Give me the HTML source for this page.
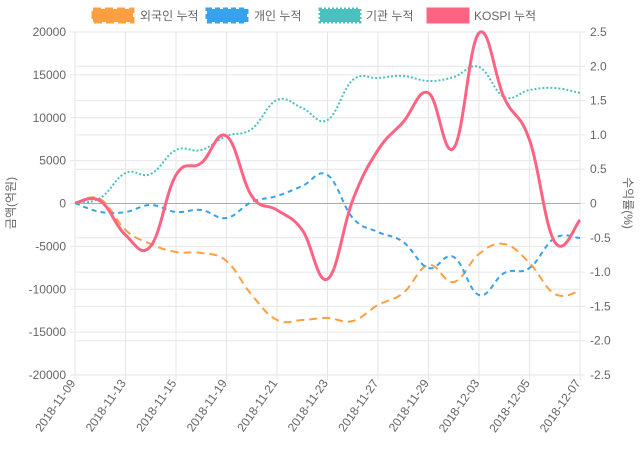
<!DOCTYPE html>
<html><head><meta charset="utf-8"><style>
body{margin:0;background:#fff}
svg text{font-family:"Liberation Sans","Noto Sans CJK KR",sans-serif;fill:#666;font-size:12px}
</style></head><body>
<svg id="s" width="640" height="450" xmlns="http://www.w3.org/2000/svg">
<g id="grid" stroke="#e6e6e6" stroke-width="1"></g>
<line x1="75" y1="203.5" x2="580" y2="203.5" stroke="#aaa"/>
<g id="lbl"></g>
<g id="lines" fill="none"></g>
<g>
<rect x="93" y="9" width="40" height="13" fill="#ff9f40" stroke="#ff9f40" stroke-width="3" stroke-dasharray="8,4"/>
<text x="140" y="20">외국인 누적</text>
<rect x="207" y="9" width="40" height="13" fill="#36a2eb" stroke="#36a2eb" stroke-width="3" stroke-dasharray="5,3"/>
<text x="254" y="20">개인 누적</text>
<rect x="320" y="9" width="40" height="13" fill="#4bc0c0" stroke="#4bc0c0" stroke-width="3" stroke-dasharray="2,2"/>
<text x="366" y="20">기관 누적</text>
<rect x="428" y="9" width="40" height="13" fill="#ff6384" stroke="#ff6384" stroke-width="3"/>
<text x="474" y="20">KOSPI 누적</text>
</g>
<text transform="translate(15,203) rotate(-90)" text-anchor="middle">금액(억원)</text>
<text transform="translate(624,203) rotate(90)" text-anchor="middle">수익률(%)</text>
</svg>
<script>
const NS="http://www.w3.org/2000/svg";
function el(p,t,a,txt){const e=document.createElementNS(NS,t);for(const k in a)e.setAttribute(k,a[k]);if(txt!==undefined)e.textContent=txt;document.getElementById(p).appendChild(e);return e;}
const L=75,R=580,T=32,B=375;
for(let i=0;i<=8;i++){const y=T+i*(B-T)/8;el("grid","line",{x1:L-5,x2:R,y1:y,y2:y});el("lbl","text",{x:66,y:y+4,"text-anchor":"end"},20000-5000*i);}
for(let i=0;i<=10;i++){const y=T+i*(B-T)/10;el("grid","line",{x1:L,x2:R+5,y1:y,y2:y});const v=(2.5-0.5*i);el("lbl","text",{x:590,y:y+4},v===0?"0":v.toFixed(1));}
const dates=["2018-11-09","2018-11-13","2018-11-15","2018-11-19","2018-11-21","2018-11-23","2018-11-27","2018-11-29","2018-12-03","2018-12-05","2018-12-07"];
for(let i=0;i<=10;i++){const x=L+i*50.5;el("grid","line",{x1:x,x2:x,y1:T,y2:B+5});el("lbl","text",{transform:`translate(${x+1},${B+8}) rotate(-55)`,"text-anchor":"end"},dates[i]);}
const st=25.25;
function path(ys){const p=ys.map((y,i)=>[L+i*st,y]);let d=`M${p[0][0]},${p[0][1]}`;
for(let i=0;i<p.length-1;i++){const p0=p[i-1]||p[i],p1=p[i],p2=p[i+1],p3=p[i+2]||p2;
const c1=[p1[0]+(p2[0]-p0[0])*0.2,p1[1]+(p2[1]-p0[1])*0.2],c2=[p2[0]-(p3[0]-p1[0])*0.2,p2[1]-(p3[1]-p1[1])*0.2];
d+=`C${c1[0]},${c1[1]} ${c2[0]},${c2[1]} ${p2[0]},${p2[1]}`;}return d;}
const fo=[203,199,230,244,252,253,261,295,320,320,318,321,305,293,265,282,254,244,263,294,291];
const ind=[203,212,212,205,212,210,218,202,196,186,175,218,232,242,268,257,295,273,268,238,238];
const ins=[203,198,173,174,150,150,136,129,100,108,120,80,78,76,81,77,67,97,90,88,93];
const ko=[203,201,235,246,175,163,136,196,210,230,279,200,150,122,93,148,33,98,140,242,220];
el("lines","path",{d:path(fo),stroke:"#ff9f40","stroke-width":2,"stroke-dasharray":"8,5"});
el("lines","path",{d:path(ind),stroke:"#36a2eb","stroke-width":2,"stroke-dasharray":"5,4"});
el("lines","path",{d:path(ins),stroke:"#4bc0c0","stroke-width":2,"stroke-dasharray":"2,2"});
el("lines","path",{d:path(ko),stroke:"#ff6384","stroke-width":3});
</script>
</body></html>
